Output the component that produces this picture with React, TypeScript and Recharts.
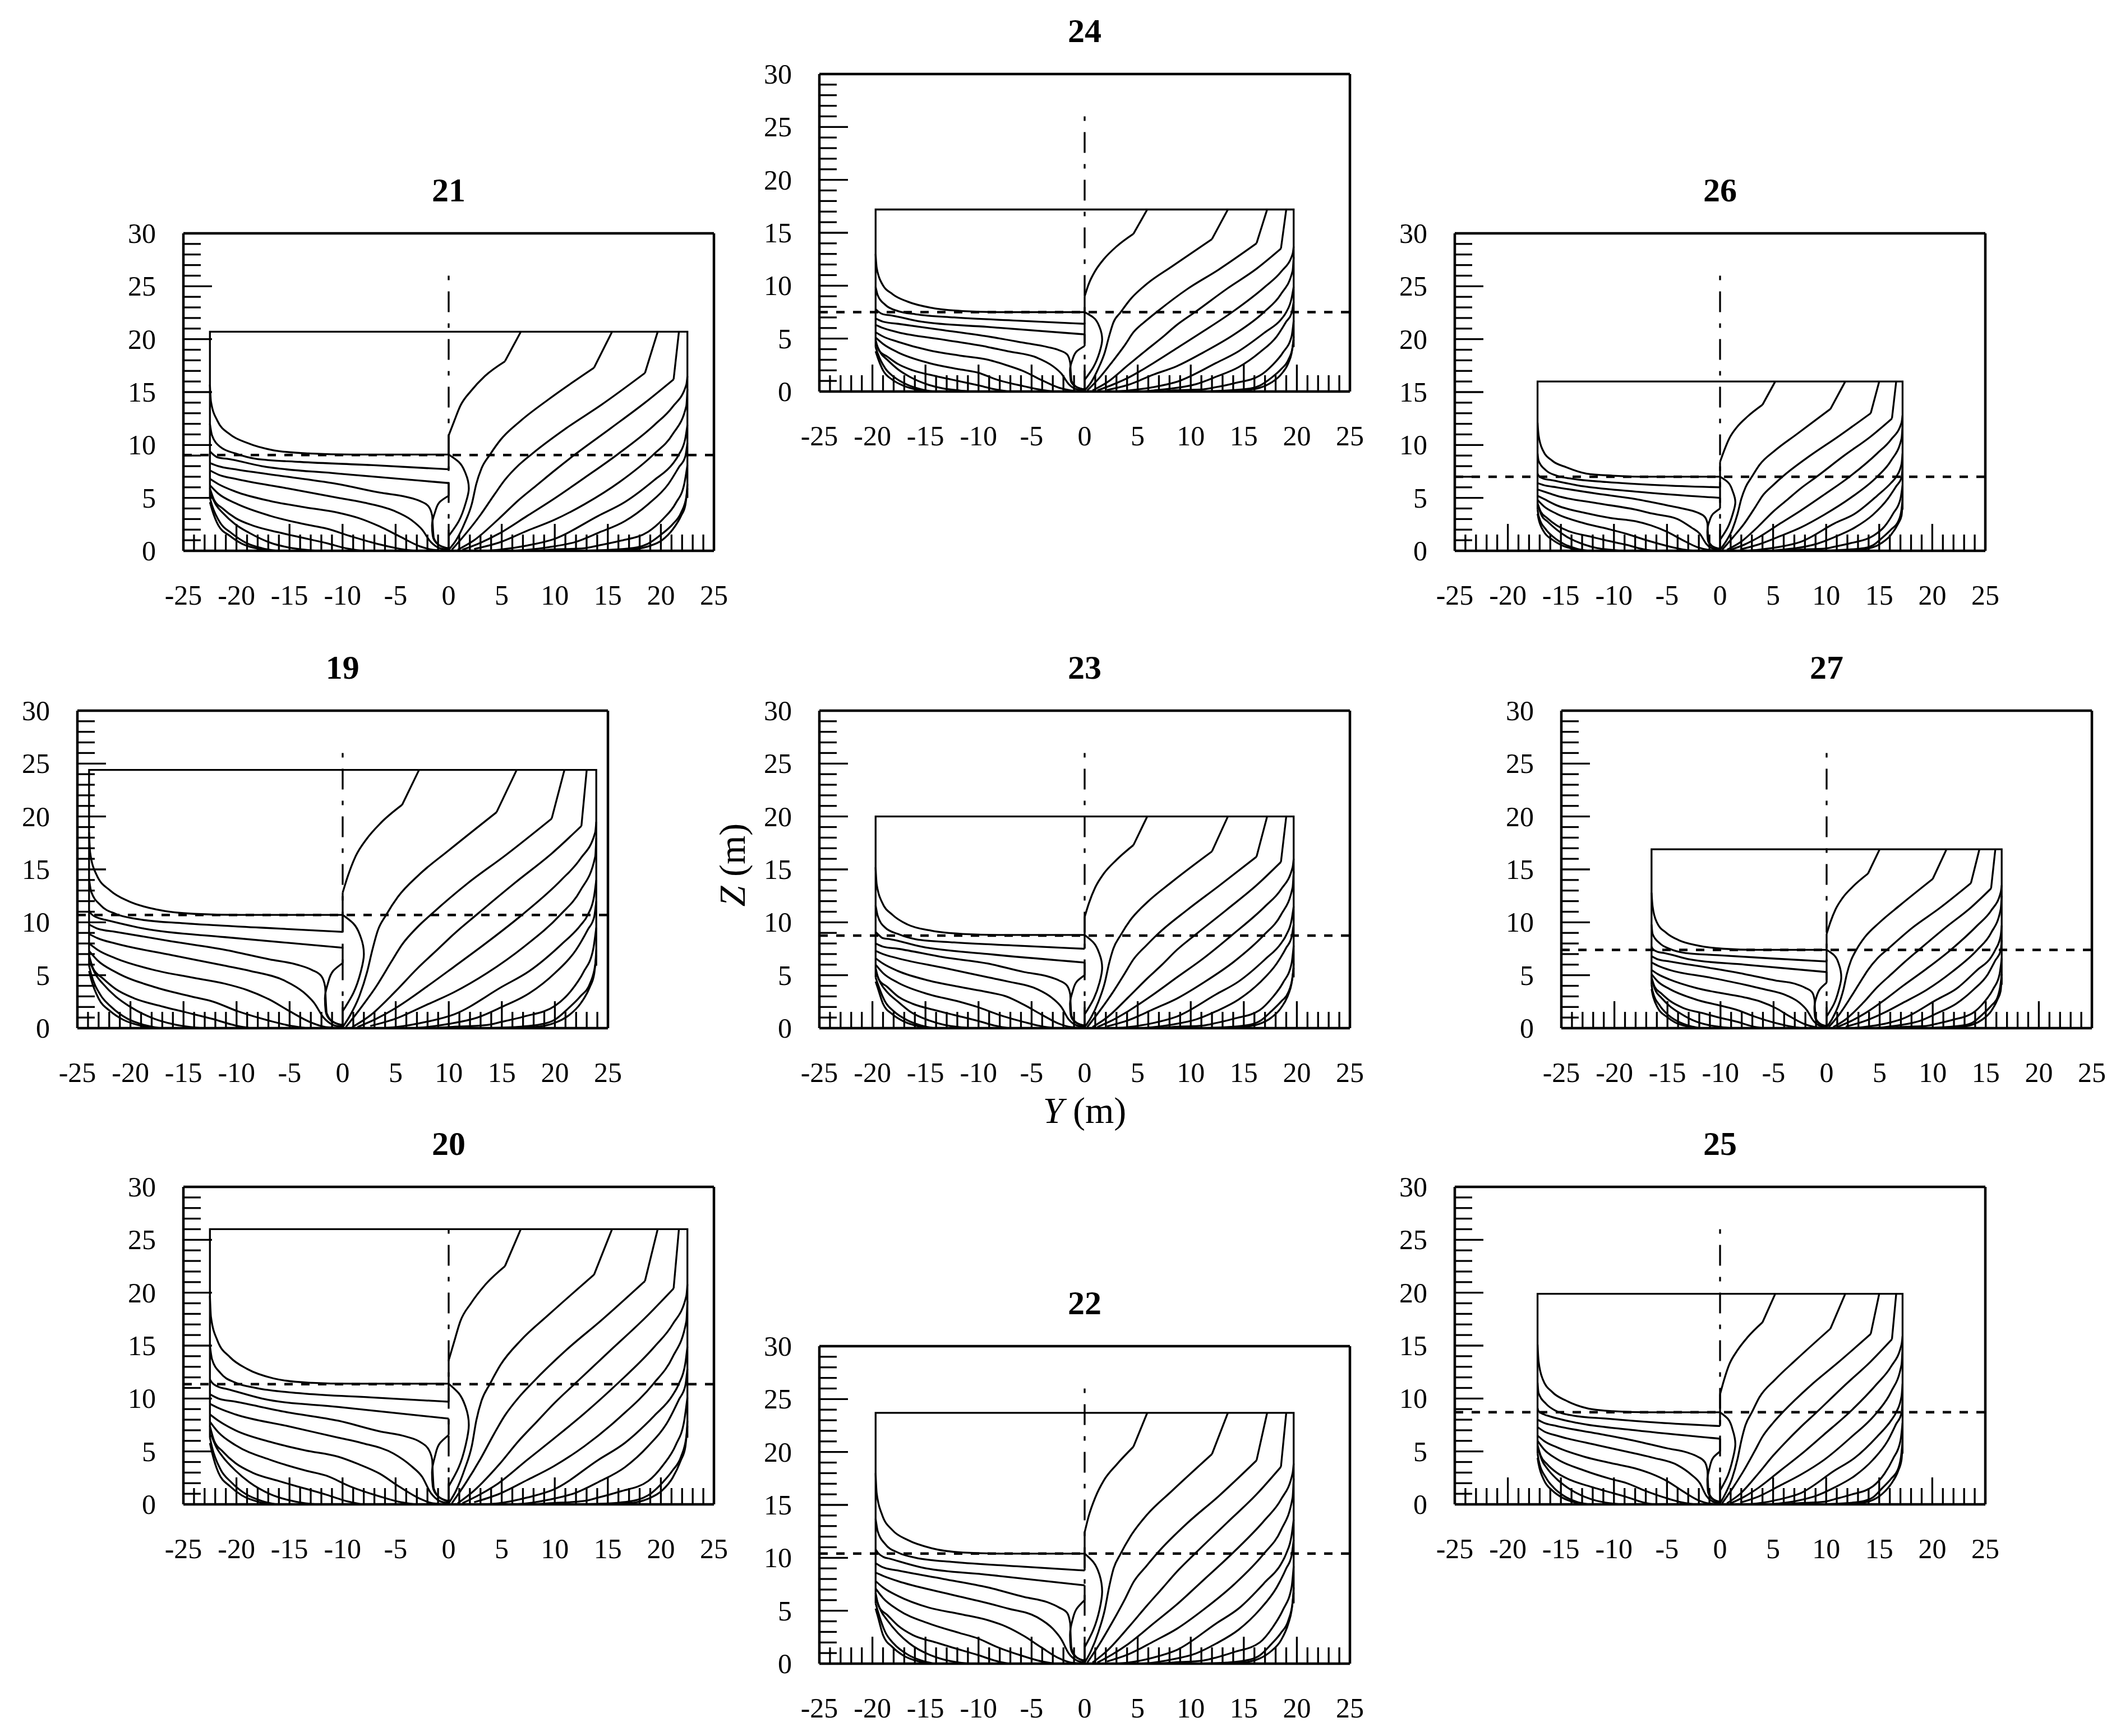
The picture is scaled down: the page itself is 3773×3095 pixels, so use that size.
import { LineChart, Line, XAxis, YAxis, ReferenceLine } from "recharts"

const xTicks = [-25,-24,-23,-22,-21,-20,-19,-18,-17,-16,-15,-14,-13,-12,-11,-10,-9,-8,-7,-6,-5,-4,-3,-2,-1,0,1,2,3,4,5,6,7,8,9,10,11,12,13,14,15,16,17,18,19,20,21,22,23,24,25]
const zTicks = [0,1,2,3,4,5,6,7,8,9,10,11,12,13,14,15,16,17,18,19,20,21,22,23,24,25,26,27,28,29,30]

// Y (half breadth) rows per hull width, Z rows per panel, same row order everywhere:
// rows 0-21 station lines, 22-23 stem and stern hooks, 24-30 straight bits (deck, centre, shoulders)
const y239 = [
  [-23.9,-23.8,-23.2,-21.9,-20.2,-17.5,-14,-9.6,0],
  [-23.9,-23.7,-22.8,-21.4,-19.3,-14.9,-7.8,0],
  [-23.9,-23.7,-23,-22.2,-18.7,-11.1,0],
  [-23.9,-23.1,-21.4,-16.1,-11.1,-6.9,-4.3,-2.9,-2,-1.65,-1.6,-1.5,-0.9,0],
  [-23.9,-23.1,-21.4,-16.1,-11.1,-8.7,-5.5,-3.7,-2.7,-1.8,-0.9,0],
  [-23.9,-23.1,-21.4,-17.8,-14.3,-11.1,-9,-6.9,-5,-2.9,-1.6,0],
  [-23.9,-23.1,-21.4,-17.8,-14.3,-12.2,-9.9,-6.9,-4.8,-3.4],
  [-23.9,-23.5,-22.6,-21.4,-19.6,-17,-15,-12.2,-10.1,-8.7],
  [-23.8,-23.3,-22.6,-21.4,-20,-17.8,-16.1,-14.3,-13],
  [-23.9,-23.7,-22.8,-21.8,-20.3,-18.7,-17.2],
  [-23.9,-23.7,-23,-21.9,-20.7,-18.9,-17.5],
  [0,0.5,1.2,2.2,3.6,5.6],
  [0,0.7,1.6,2.3,2.8,3.3,4.1,5.2,7.2,10,14.5],
  [0.3,1.7,3.2,4.6,5.6,7,8.4,11.8,15.3,19.7],
  [0.9,2.6,5,7,8.8,10.6,12.6,16.2,19.7,22.5],
  [1.4,3.2,5,7.9,10.5,13.6,16.9,20.6,22.4,23.8,23.9],
  [2.6,5,7.9,10.5,13.6,17.1,20.5,22.4,23.8,23.9],
  [3.5,5,7.9,10.5,15,17.6,20.6,22.4,23.1,23.7,23.9],
  [6.5,7.9,10,12.7,15,17.6,20,22,23.1,23.7,23.9],
  [8.5,10,13.6,15,17.1,20,21.5,22.7,23.6,23.9],
  [13,16.2,18.9,20,21.3,22.4,23.3,23.8,23.9],
  [15,18,20,21.3,22.4,23.3,23.7,23.9],
  [0,-0.9,-1.4,-1.67,-1.6,-1.1,0],
  [0,1,1.7,2,1.7,1,0],
  [-23.9,-23.9,23.9,23.9],
  [0,0],
  [0,0],
  [5.6,7.2],
  [14.5,16.4],
  [19.7,20.9],
  [22.5,23],
]
const y225 = [
  [-22.5,-22.4,-21.8,-20.6,-19,-16.5,-13.2,-9,0],
  [-22.5,-22.3,-21.5,-20.1,-18.2,-14,-7.3,0],
  [-22.5,-22.3,-21.7,-20.9,-17.6,-10.4,0],
  [-22.5,-21.7,-20.1,-15.2,-10.4,-6.5,-4,-2.7,-1.9,-1.55,-1.5,-1.4,-0.85,0],
  [-22.5,-21.7,-20.1,-15.2,-10.4,-8.2,-5.2,-3.5,-2.5,-1.7,-0.85,0],
  [-22.5,-21.7,-20.1,-16.8,-13.5,-10.4,-8.5,-6.5,-4.7,-2.7,-1.5,0],
  [-22.5,-21.7,-20.1,-16.8,-13.5,-11.5,-9.3,-6.5,-4.5,-3.2],
  [-22.5,-22.1,-21.3,-20.1,-18.5,-16,-14.1,-11.5,-9.5,-8.2],
  [-22.4,-21.9,-21.3,-20.1,-18.8,-16.8,-15.2,-13.5,-12.2],
  [-22.5,-22.3,-21.5,-20.5,-19.1,-17.6,-16.2],
  [-22.5,-22.3,-21.7,-20.6,-19.5,-17.8,-16.5],
  [0,0.5,1.1,2.1,3.4,5.3],
  [0,0.7,1.5,2.2,2.6,3.1,3.9,4.9,6.8,9.4,13.7],
  [0.3,1.6,3,4.3,5.3,6.6,7.9,11.1,14.4,18.5],
  [0.85,2.4,4.7,6.6,8.3,10,11.9,15.3,18.5,21.2],
  [1.3,3,4.7,7.4,9.9,12.8,15.9,19.4,21.1,22.4,22.5],
  [2.4,4.7,7.4,9.9,12.8,16.1,19.3,21.1,22.4,22.5],
  [3.3,4.7,7.4,9.9,14.1,16.6,19.4,21.1,21.7,22.3,22.5],
  [6.1,7.4,9.4,12,14.1,16.6,18.8,20.7,21.7,22.3,22.5],
  [8,9.4,12.8,14.1,16.1,18.8,20.2,21.4,22.2,22.5],
  [12.2,15.3,17.8,18.8,20.1,21.1,21.9,22.4,22.5],
  [14.1,16.9,18.8,20.1,21.1,21.9,22.3,22.5],
  [0,-0.85,-1.3,-1.57,-1.5,-1,0],
  [0,0.95,1.6,1.9,1.6,0.95,0],
  [-22.5,-22.5,22.5,22.5],
  [0,0],
  [0,0],
  [5.3,6.8],
  [13.7,15.4],
  [18.5,19.7],
  [21.2,21.7],
]
const y197 = [
  [-19.7,-19.6,-19.1,-18.1,-16.7,-14.4,-11.5,-7.9,0],
  [-19.7,-19.5,-18.8,-17.6,-15.9,-12.3,-6.4,0],
  [-19.7,-19.5,-19,-18.3,-15.4,-9.1,0],
  [-19.7,-19,-17.6,-13.3,-9.1,-5.7,-3.5,-2.4,-1.65,-1.36,-1.32,-1.24,-0.74,0],
  [-19.7,-19,-17.6,-13.3,-9.1,-7.2,-4.5,-3,-2.2,-1.5,-0.74,0],
  [-19.7,-19,-17.6,-14.7,-11.8,-9.1,-7.4,-5.7,-4.1,-2.4,-1.3,0],
  [-19.7,-19,-17.6,-14.7,-11.8,-10.1,-8.2,-5.7,-4,-2.8],
  [-19.7,-19.4,-18.6,-17.6,-16.2,-14,-12.4,-10.1,-8.3,-7.2],
  [-19.6,-19.2,-18.6,-17.6,-16.5,-14.7,-13.3,-11.8,-10.7],
  [-19.7,-19.5,-18.8,-18,-16.7,-15.4,-14.2],
  [-19.7,-19.5,-19,-18.1,-17.1,-15.6,-14.4],
  [0,0.4,1,1.8,3,4.6],
  [0,0.6,1.3,1.9,2.3,2.7,3.4,4.3,5.9,8.2,12],
  [0.25,1.4,2.6,3.8,4.6,5.8,6.9,9.7,12.6,16.2],
  [0.74,2.1,4.1,5.8,7.3,8.7,10.4,13.4,16.2,18.5],
  [1.2,2.6,4.1,6.5,8.7,11.2,13.9,17,18.5,19.6,19.7],
  [2.1,4.1,6.5,8.7,11.2,14.1,16.9,18.5,19.6,19.7],
  [2.9,4.1,6.5,8.7,12.4,14.5,17,18.5,19,19.5,19.7],
  [5.4,6.5,8.2,10.5,12.4,14.5,16.5,18.1,19,19.5,19.7],
  [7,8.2,11.2,12.4,14.1,16.5,17.7,18.7,19.5,19.7],
  [10.7,13.4,15.6,16.5,17.6,18.5,19.2,19.6,19.7],
  [12.4,14.8,16.5,17.6,18.5,19.2,19.5,19.7],
  [0,-0.74,-1.15,-1.38,-1.32,-0.9,0],
  [0,0.82,1.4,1.65,1.4,0.82,0],
  [-19.7,-19.7,19.7,19.7],
  [0,0],
  [0,0],
  [4.6,5.9],
  [12,13.5],
  [16.2,17.2],
  [18.5,19],
]
const y172 = [
  [-17.2,-17.1,-16.7,-15.8,-14.5,-12.6,-10.1,-6.9,0],
  [-17.2,-17.1,-16.4,-15.4,-13.9,-10.7,-5.6,0],
  [-17.2,-17.1,-16.6,-16,-13.5,-8,0],
  [-17.2,-16.6,-15.4,-11.6,-8,-5,-3.1,-2.1,-1.44,-1.19,-1.15,-1.08,-0.65,0],
  [-17.2,-16.6,-15.4,-11.6,-8,-6.3,-4,-2.7,-1.9,-1.3,-0.65,0],
  [-17.2,-16.6,-15.4,-12.8,-10.3,-8,-6.5,-5,-3.6,-2.1,-1.15,0],
  [-17.2,-16.6,-15.4,-12.8,-10.3,-8.8,-7.1,-5,-3.5,-2.4],
  [-17.2,-16.9,-16.3,-15.4,-14.1,-12.2,-10.8,-8.8,-7.3,-6.3],
  [-17.1,-16.8,-16.3,-15.4,-14.4,-12.8,-11.6,-10.3,-9.4],
  [-17.2,-17.1,-16.4,-15.7,-14.6,-13.5,-12.4],
  [-17.2,-17.1,-16.6,-15.8,-14.9,-13.6,-12.6],
  [0,0.36,0.86,1.6,2.6,4],
  [0,0.5,1.15,1.65,2,2.4,3,3.7,5.2,7.2,10.4],
  [0.2,1.2,2.3,3.3,4,5,6,8.5,11,14.2],
  [0.65,1.9,3.6,5,6.3,7.6,9.1,11.7,14.2,16.2],
  [1,2.3,3.6,5.7,7.6,9.8,12.2,14.8,16.1,17.1,17.2],
  [1.9,3.6,5.7,7.6,9.8,12.3,14.8,16.1,17.1,17.2],
  [2.5,3.6,5.7,7.6,10.8,12.7,14.8,16.1,16.6,17.1,17.2],
  [4.7,5.7,7.2,9.1,10.8,12.7,14.4,15.8,16.6,17.1,17.2],
  [6.1,7.2,9.8,10.8,12.3,14.4,15.5,16.3,17,17.2],
  [9.4,11.7,13.6,14.4,15.3,16.1,16.8,17.1,17.2],
  [10.8,13,14.4,15.3,16.1,16.8,17.1,17.2],
  [0,-0.65,-1,-1.2,-1.15,-0.8,0],
  [0,0.72,1.2,1.44,1.2,0.72,0],
  [-17.2,-17.2,17.2,17.2],
  [0,0],
  [0,0],
  [4,5.2],
  [10.4,11.8],
  [14.2,15],
  [16.2,16.6],
]
const y165 = [
  [-16.5,-16.4,-16,-15.1,-13.9,-12.1,-9.7,-6.6,0],
  [-16.5,-16.4,-15.7,-14.8,-13.3,-10.3,-5.4,0],
  [-16.5,-16.4,-15.9,-15.3,-12.9,-7.7,0],
  [-16.5,-15.9,-14.8,-11.1,-7.7,-4.8,-3,-2,-1.38,-1.14,-1.1,-1.04,-0.62,0],
  [-16.5,-15.9,-14.8,-11.1,-7.7,-6,-3.8,-2.55,-1.86,-1.24,-0.62,0],
  [-16.5,-15.9,-14.8,-12.3,-9.9,-7.7,-6.2,-4.8,-3.45,-2,-1.1,0],
  [-16.5,-15.9,-14.8,-12.3,-9.9,-8.4,-6.8,-4.8,-3.3,-2.35],
  [-16.5,-16.2,-15.6,-14.8,-13.5,-11.7,-10.4,-8.4,-7,-6],
  [-16.4,-16.1,-15.6,-14.8,-13.8,-12.3,-11.1,-9.9,-9],
  [-16.5,-16.4,-15.7,-15.1,-14,-12.9,-11.9],
  [-16.5,-16.4,-15.9,-15.1,-14.3,-13,-12.1],
  [0,0.35,0.83,1.5,2.5,3.9],
  [0,0.5,1.1,1.6,1.9,2.3,2.8,3.6,5,6.9,10],
  [0.2,1.2,2.2,3.2,3.9,4.8,5.8,8.1,10.6,13.6],
  [0.62,1.8,3.45,4.8,6.1,7.3,8.7,11.2,13.6,15.5],
  [1,2.2,3.45,5.5,7.2,9.4,11.7,14.2,15.5,16.4,16.5],
  [1.8,3.45,5.5,7.2,9.4,11.8,14.2,15.5,16.4,16.5],
  [2.4,3.45,5.5,7.2,10.4,12.2,14.2,15.5,15.9,16.4,16.5],
  [4.5,5.5,6.9,8.8,10.4,12.2,13.8,15.2,15.9,16.4,16.5],
  [5.9,6.9,9.4,10.4,11.8,13.8,14.8,15.7,16.3,16.5],
  [9,11.2,13,13.8,14.7,15.5,16.1,16.4,16.5],
  [10.4,12.4,13.8,14.7,15.5,16.1,16.4,16.5],
  [0,-0.62,-0.97,-1.15,-1.1,-0.76,0],
  [0,0.7,1.17,1.38,1.17,0.7,0],
  [-16.5,-16.5,16.5,16.5],
  [0,0],
  [0,0],
  [3.9,5],
  [10,11.3],
  [13.6,14.4],
  [15.5,15.9],
]

const z19 = [
  [18.5,16.6,14.5,13,12,11.2,10.8,10.7,10.7],
  [14.1,12.9,11.6,10.8,10.3,9.9,9.5,9.1],
  [11.1,10.8,10.4,10.2,9.4,8.6,7.6],
  [9.8,9.4,9.1,8.2,7.4,6.5,6,5.5,4.9,3.9,2.8,1.4,0.6,0.3],
  [8.9,8.5,8,6.9,5.9,5.4,4.5,3.4,2.4,1,0.3,0.1],
  [8,7.4,6.6,5.5,4.8,4.2,3.6,2.7,1.6,0.5,0.1,0],
  [7.3,6.4,5.3,3.9,3,2.5,1.6,0.7,0.2,0],
  [6.9,5.6,4.7,3.7,2.8,2.05,1.55,0.85,0.25,0],
  [6.2,5.1,4.2,3,2,0.9,0.4,0.1,0],
  [5.9,5.1,3.1,2,0.9,0.3,0],
  [5.4,4.6,2.8,1.6,0.8,0.2,0],
  [12.8,14.4,16.2,17.8,19.4,21.1],
  [0.1,1.2,3.1,5.3,7.4,9.2,10.7,12.4,14.5,16.8,20.4],
  [0.1,1.9,4,6.3,7.9,9.5,10.8,13.7,16.3,19.8],
  [0.1,1.2,3.5,5.6,7.3,9,10.7,13.7,16.5,19.1],
  [0.1,0.9,1.9,3.9,5.8,8.1,10.7,14,16,18.5,19.5],
  [0.2,0.9,2.2,3.4,5.2,7.7,10.7,13,16.2,18],
  [0,0.1,0.6,1.3,3.9,5.4,7.9,9.7,10.7,12.5,14],
  [0,0.1,0.4,1,2,3.3,5.2,7.4,9.3,10.5,12],
  [0,0.1,0.3,0.6,1.1,2.1,3.5,5.3,7.4,9.5],
  [0,0.1,0.4,0.8,1.9,3,4.2,6,7.4],
  [0,0.1,0.5,1.2,2.3,3.9,5.1,6.9],
  [6.15,5.4,4.2,2.8,1.6,0.7,0.2],
  [10.7,9.9,8.6,7,5.3,3.3,1.6],
  [5.9,24.4,24.4,5.9],
  [12.8,9.1],
  [7.6,6.15],
  [21.1,24.4],
  [20.4,24.4],
  [19.8,24.4],
  [19.1,24.4],
]
const z20 = [
  [19.7,17.7,15.5,13.9,12.8,11.9,11.5,11.4,11.4],
  [15,13.7,12.4,11.5,11,10.5,10.1,9.7],
  [11.8,11.5,11.1,10.9,10,9.2,8.1],
  [10.4,10,9.7,8.7,7.9,6.9,6.4,5.9,5.2,4.2,3,1.5,0.64,0.32],
  [9.5,9.1,8.5,7.4,6.3,5.8,4.8,3.6,2.6,1.1,0.32,0.1],
  [8.5,7.9,7,5.9,5.1,4.5,3.8,2.9,1.7,0.53,0.1,0],
  [7.8,6.8,5.6,4.2,3.2,2.7,1.7,0.75,0.2,0],
  [7.4,6,5,3.9,3,2.2,1.65,0.9,0.27,0],
  [6.6,5.4,4.5,3.2,2.1,0.96,0.43,0.1,0],
  [6.3,5.4,3.3,2.1,0.96,0.32,0],
  [5.8,4.9,3,1.7,0.85,0.2,0],
  [13.6,15.3,17.3,19,20.7,22.5],
  [0.1,1.3,3.3,5.6,7.9,9.8,11.4,13.2,15.5,17.9,21.7],
  [0.1,2,4.3,6.7,8.4,10.1,11.5,14.6,17.4,21.1],
  [0.1,1.3,3.7,6,7.8,9.6,11.4,14.6,17.6,20.4],
  [0.1,0.96,2,4.2,6.2,8.6,11.4,14.9,17,19.7,20.8],
  [0.2,0.96,2.3,3.6,5.5,8.2,11.4,13.9,17.3,19.2],
  [0,0.1,0.64,1.4,4.2,5.8,8.4,10.3,11.4,13.3,14.9],
  [0,0.1,0.43,1.1,2.1,3.5,5.5,7.9,9.9,11.2,12.8],
  [0,0.1,0.32,0.64,1.2,2.2,3.7,5.6,7.9,10.1],
  [0,0.1,0.43,0.85,2,3.2,4.5,6.4,7.9],
  [0,0.1,0.53,1.3,2.5,4.2,5.4,7.4],
  [6.55,5.75,4.5,3,1.7,0.75,0.2],
  [11.4,10.5,9.2,7.5,5.6,3.5,1.7],
  [6.3,26,26,6.3],
  [13.6,9.7],
  [8.1,6.55],
  [22.5,26],
  [21.7,26],
  [21.1,26],
  [20.4,26],
]
const z21 = [
  [15.7,14.1,12.3,11,10.2,9.5,9.2,9.1,9.1],
  [12,10.9,9.8,9.2,8.7,8.4,8.1,7.7],
  [9.4,9.2,8.8,8.7,8,7.3,6.4],
  [8.3,8,7.7,7,6.3,5.5,5.1,4.7,4.2,3.3,2.4,1.2,0.5,0.25],
  [7.6,7.2,6.8,5.9,5,4.6,3.8,2.9,2,0.85,0.25,0.1],
  [6.8,6.3,5.6,4.7,4.1,3.6,3.1,2.3,1.4,0.42,0.1,0],
  [6.2,5.4,4.5,3.3,2.5,2.1,1.4,0.6,0.17,0],
  [5.9,4.8,4,3.1,2.4,1.74,1.3,0.72,0.2,0],
  [5.3,4.3,3.6,2.5,1.7,0.76,0.34,0.1,0],
  [5,4.3,2.6,1.7,0.76,0.25,0],
  [4.6,3.9,2.4,1.4,0.68,0.17,0],
  [10.9,12.2,13.7,15.1,16.5,17.9],
  [0.1,1,2.6,4.5,6.3,7.8,9.1,10.5,12.3,14.3,17.3],
  [0.1,1.6,3.4,5.3,6.7,8.1,9.2,11.6,13.8,16.8],
  [0.1,1,3,4.8,6.2,7.6,9.1,11.6,14,16.2],
  [0.1,0.76,1.6,3.3,4.9,6.9,9.1,11.9,13.6,15.7,16.5],
  [0.17,0.76,1.9,2.9,4.4,6.5,9.1,11,13.7,15.3],
  [0,0.1,0.5,1.1,3.3,4.6,6.7,8.2,9.1,10.6,11.9],
  [0,0.1,0.34,0.85,1.7,2.8,4.4,6.3,7.9,8.9,10.2],
  [0,0.1,0.25,0.5,0.93,1.8,3,4.5,6.3,8.1],
  [0,0.1,0.34,0.68,1.6,2.5,3.6,5.1,6.3],
  [0,0.1,0.42,1,2,3.3,4.3,5.9],
  [5.2,4.6,3.6,2.4,1.4,0.6,0.17],
  [9.1,8.4,7.3,5.9,4.5,2.8,1.4],
  [5,20.7,20.7,5],
  [10.9,7.7],
  [6.4,5.2],
  [17.9,20.7],
  [17.3,20.7],
  [16.8,20.7],
  [16.2,20.7],
]
const z22 = [
  [18,16.1,14.1,12.6,11.7,10.9,10.5,10.4,10.4],
  [13.7,12.5,11.3,10.5,10,9.6,9.2,8.8],
  [10.8,10.5,10.1,9.9,9.1,8.4,7.4],
  [9.5,9.1,8.8,8,7.2,6.3,5.8,5.3,4.8,3.8,2.7,1.4,0.58,0.3],
  [8.6,8.3,7.8,6.7,5.7,5.2,4.4,3.3,2.3,0.97,0.3,0.1],
  [7.8,7.2,6.4,5.3,4.7,4.1,3.5,2.6,1.55,0.5,0.1,0],
  [7.1,6.2,5.1,3.8,2.9,2.4,1.55,0.68,0.2,0],
  [6.7,5.4,4.6,3.6,2.7,2,1.5,0.83,0.24,0],
  [6,5,4.1,2.9,1.9,0.87,0.39,0.1,0],
  [5.7,5,3,1.9,0.87,0.3,0],
  [5.2,4.5,2.7,1.55,0.78,0.2,0],
  [12.4,14,15.7,17.3,18.8,20.5],
  [0.1,1.2,3,5.1,7.2,8.9,10.4,12,14.1,16.3,19.8],
  [0.1,1.85,3.9,6.1,7.7,9.2,10.5,13.3,15.8,19.2],
  [0.1,1.2,3.4,5.4,7.1,8.7,10.4,13.3,16,18.6],
  [0.1,0.87,1.85,3.8,5.6,7.9,10.4,13.6,15.5,18,18.9],
  [0.2,0.87,2.1,3.3,5.1,7.5,10.4,12.6,15.7,17.5],
  [0,0.1,0.58,1.3,3.8,5.2,7.7,9.4,10.4,12.1,13.6],
  [0,0.1,0.39,0.97,1.9,3.2,5.1,7.2,9,10.2,11.7],
  [0,0.1,0.3,0.58,1.1,2,3.4,5.1,7.2,9.2],
  [0,0.1,0.39,0.78,1.85,2.9,4.1,5.8,7.2],
  [0,0.1,0.49,1.2,2.2,3.8,5,6.7],
  [6,5.2,4.1,2.7,1.55,0.68,0.2],
  [10.4,9.6,8.4,6.8,5.1,3.2,1.55],
  [5.7,23.7,23.7,5.7],
  [12.4,8.8],
  [7.4,6],
  [20.5,23.7],
  [19.8,23.7],
  [19.2,23.7],
  [18.6,23.7],
]
const z23 = [
  [15.2,13.6,11.9,10.7,9.8,9.2,8.9,8.8,8.8],
  [11.6,10.6,9.5,8.9,8.4,8.1,7.8,7.5],
  [9.1,8.9,8.5,8.4,7.7,7,6.2],
  [8,7.7,7.5,6.7,6.1,5.3,4.9,4.5,4,3.2,2.3,1.15,0.49,0.25],
  [7.3,7,6.6,5.7,4.8,4.4,3.7,2.8,2,0.82,0.25,0.1],
  [6.6,6.1,5.4,4.5,3.9,3.4,3,2.2,1.3,0.41,0.1,0],
  [6,5.2,4.3,3.2,2.5,2,1.3,0.57,0.16,0],
  [5.7,4.6,3.9,3,2.3,1.68,1.27,0.7,0.2,0],
  [5.1,4.2,3.4,2.5,1.6,0.74,0.33,0.1,0],
  [4.8,4.2,2.5,1.6,0.74,0.25,0],
  [4.4,3.8,2.3,1.3,0.66,0.16,0],
  [10.5,11.8,13.3,14.6,15.9,17.3],
  [0.1,1,2.5,4.3,6.1,7.5,8.8,10.2,11.9,13.8,16.7],
  [0.1,1.6,3.3,5.2,6.5,7.8,8.9,11.2,13.4,16.2],
  [0.1,1,2.9,4.6,6,7.4,8.8,11.2,13.5,15.7],
  [0.1,0.74,1.6,3.2,4.8,6.6,8.8,11.5,13.1,15.2,16],
  [0.16,0.74,1.8,2.8,4.3,6.3,8.8,10.7,13.3,14.8],
  [0,0.1,0.49,1.1,3.2,4.4,6.5,8,8.8,10.2,11.5],
  [0,0.1,0.33,0.82,1.6,2.7,4.3,6.1,7.6,8.6,9.8],
  [0,0.1,0.25,0.49,0.9,1.7,2.9,4.3,6.1,7.8],
  [0,0.1,0.33,0.66,1.6,2.5,3.4,4.9,6.1],
  [0,0.1,0.41,1,1.9,3.2,4.2,5.7],
  [5,4.4,3.4,2.3,1.3,0.57,0.16],
  [8.8,8.1,7,5.7,4.3,2.7,1.3],
  [4.8,20,20,4.8],
  [10.5,7.5],
  [6.2,5],
  [17.3,20],
  [16.7,20],
  [16.2,20],
  [15.7,20],
]
const z24 = [
  [13,11.7,10.2,9.2,8.5,7.9,7.6,7.5,7.5],
  [9.9,9.1,8.2,7.6,7.3,7,6.7,6.4],
  [7.8,7.6,7.3,7.2,6.6,6.1,5.4],
  [6.9,6.6,6.4,5.8,5.2,4.6,4.2,3.9,3.5,2.7,2,1,0.42,0.21],
  [6.3,6,5.6,4.9,4.2,3.8,3.2,2.4,1.7,0.7,0.21,0.1],
  [5.6,5.2,4.7,3.9,3.4,3,2.5,1.9,1.1,0.35,0.1,0],
  [5.1,4.5,3.7,2.7,2.1,1.8,1.1,0.49,0.14,0],
  [4.9,3.9,3.3,2.6,2,1.45,1.1,0.6,0.18,0],
  [4.4,3.6,3,2.1,1.4,0.63,0.28,0.1,0],
  [4.2,3.6,2.2,1.4,0.63,0.21,0],
  [3.8,3.2,2,1.1,0.56,0.14,0],
  [9,10.2,11.4,12.5,13.7,14.9],
  [0.1,0.85,2.2,3.7,5.2,6.5,7.5,8.7,10.2,11.8,14.4],
  [0.1,1.3,2.8,4.4,5.6,6.7,7.6,9.7,11.5,14],
  [0.1,0.85,2.5,3.9,5.1,6.3,7.5,9.7,11.6,13.5],
  [0.1,0.63,1.3,2.7,4.1,5.7,7.5,9.9,11.3,13,13.7],
  [0.14,0.63,1.6,2.4,3.7,5.4,7.5,9.2,11.4,12.7],
  [0,0.1,0.42,0.92,2.7,3.8,5.6,6.8,7.5,8.8,9.9],
  [0,0.1,0.28,0.7,1.4,2.3,3.7,5.2,6.6,7.4,8.5],
  [0,0.1,0.21,0.42,0.78,1.5,2.5,3.7,5.2,6.7],
  [0,0.1,0.28,0.56,1.3,2.1,3,4.2,5.2],
  [0,0.1,0.35,0.85,1.6,2.7,3.6,4.9],
  [4.3,3.8,3,2,1.1,0.49,0.14],
  [7.5,7,6.1,4.9,3.7,2.3,1.1],
  [4.2,17.2,17.2,4.2],
  [9,6.4],
  [5.4,4.3],
  [14.9,17.2],
  [14.4,17.2],
  [14,17.2],
  [13.5,17.2],
]
const z25 = [
  [15.1,13.5,11.8,10.6,9.8,9.1,8.8,8.7,8.7],
  [11.5,10.5,9.5,8.8,8.4,8.1,7.7,7.4],
  [9.1,8.8,8.5,8.3,7.7,7,6.2],
  [8,7.7,7.4,6.7,6,5.3,4.9,4.5,4,3.2,2.3,1.15,0.49,0.25],
  [7.3,6.9,6.5,5.6,4.8,4.4,3.7,2.8,2,0.82,0.25,0.1],
  [6.5,6,5.4,4.5,3.9,3.4,2.9,2.2,1.3,0.41,0.1,0],
  [6,5.2,4.3,3.2,2.4,2,1.3,0.57,0.16,0],
  [5.6,4.6,3.8,3,2.3,1.67,1.26,0.69,0.2,0],
  [5.1,4.2,3.4,2.4,1.6,0.73,0.33,0.1,0],
  [4.8,4.2,2.5,1.6,0.73,0.24,0],
  [4.4,3.8,2.3,1.3,0.65,0.16,0],
  [10.4,11.7,13.2,14.5,15.8,17.2],
  [0.1,1,2.5,4.3,6,7.5,8.7,10.1,11.8,13.7,16.6],
  [0.1,1.55,3.3,5.1,6.4,7.7,8.8,11.2,13.3,16.1],
  [0.1,1,2.9,4.6,6,7.3,8.7,11.2,13.5,15.6],
  [0.1,0.73,1.55,3.2,4.7,6.6,8.7,11.4,13,15.1,15.9],
  [0.16,0.73,1.8,2.8,4.2,6.3,8.7,10.6,13.2,14.7],
  [0,0.1,0.49,1.06,3.2,4.4,6.4,7.9,8.7,10.2,11.4],
  [0,0.1,0.33,0.82,1.6,2.7,4.2,6,7.6,8.6,9.8],
  [0,0.1,0.24,0.49,0.9,1.7,2.9,4.3,6,7.7],
  [0,0.1,0.33,0.65,1.55,2.4,3.4,4.9,6],
  [0,0.1,0.41,1,1.9,3.2,4.2,5.6],
  [5,4.4,3.4,2.3,1.3,0.57,0.16],
  [8.7,8.1,7,5.7,4.3,2.7,1.3],
  [4.8,19.9,19.9,4.8],
  [10.4,7.4],
  [6.2,5],
  [17.2,19.9],
  [16.6,19.9],
  [16.1,19.9],
  [15.6,19.9],
]
const z26 = [
  [12.1,10.9,9.5,8.5,7.9,7.3,7.1,7,7],
  [9.2,8.5,7.6,7.1,6.8,6.5,6.2,6],
  [7.3,7.1,6.8,6.7,6.2,5.6,5],
  [6.4,6.2,6,5.4,4.9,4.3,3.9,3.6,3.2,2.6,1.8,0.92,0.39,0.2],
  [5.8,5.6,5.2,4.5,3.9,3.5,3,2.2,1.6,0.66,0.2,0.1],
  [5.2,4.9,4.3,3.6,3.1,2.8,2.4,1.8,1.05,0.33,0.1,0],
  [4.8,4.2,3.5,2.6,2,1.6,1.05,0.46,0.13,0],
  [4.5,3.7,3.1,2.4,1.8,1.34,1,0.56,0.16,0],
  [4.1,3.3,2.8,2,1.3,0.59,0.26,0.1,0],
  [3.9,3.3,2,1.3,0.59,0.2,0],
  [3.5,3,1.8,1.05,0.52,0.13,0],
  [8.4,9.4,10.6,11.7,12.7,13.8],
  [0.1,0.8,2,3.5,4.9,6,7,8.1,9.5,11,13.4],
  [0.1,1.25,2.6,4.1,5.2,6.2,7.1,9,10.7,13],
  [0.1,0.8,2.3,3.7,4.8,5.9,7,9,10.8,12.5],
  [0.1,0.59,1.25,2.6,3.8,5.3,7,9.2,10.5,12.1,12.8],
  [0.13,0.59,1.4,2.2,3.4,5,7,8.5,10.6,11.8],
  [0,0.1,0.39,0.85,2.6,3.5,5.2,6.4,7,8.2,9.2],
  [0,0.1,0.26,0.66,1.3,2.2,3.4,4.9,6.1,6.9,7.9],
  [0,0.1,0.2,0.39,0.72,1.4,2.3,3.5,4.9,6.2],
  [0,0.1,0.26,0.52,1.25,2,2.8,3.9,4.9],
  [0,0.1,0.33,0.79,1.5,2.6,3.3,4.5],
  [4,3.5,2.8,1.8,1.05,0.46,0.13],
  [7,6.5,5.6,4.6,3.5,2.2,1.05],
  [3.9,16,16,3.9],
  [8.4,6],
  [5,4],
  [13.8,16],
  [13.4,16],
  [13,16],
  [12.5,16],
]
const z27 = [
  [12.8,11.5,10,9,8.3,7.8,7.5,7.4,7.4],
  [9.8,8.9,8,7.5,7.1,6.9,6.6,6.3],
  [7.7,7.5,7.2,7.1,6.5,6,5.3],
  [6.8,6.5,6.3,5.7,5.1,4.5,4.2,3.8,3.4,2.7,1.9,0.97,0.42,0.21],
  [6.2,5.9,5.5,4.8,4.1,3.7,3.1,2.4,1.7,0.69,0.21,0.1],
  [5.5,5.1,4.6,3.8,3.3,2.9,2.5,1.9,1.1,0.35,0.1,0],
  [5.1,4.4,3.7,2.7,2.1,1.7,1.1,0.48,0.14,0],
  [4.8,3.9,3.3,2.6,1.9,1.42,1.07,0.59,0.17,0],
  [4.3,3.5,2.9,2.1,1.4,0.62,0.28,0.1,0],
  [4.1,3.5,2.1,1.4,0.62,0.21,0],
  [3.7,3.2,1.9,1.1,0.55,0.14,0],
  [8.9,10,11.2,12.3,13.4,14.6],
  [0.1,0.83,2.1,3.7,5.1,6.4,7.4,8.6,10,11.6,14.1],
  [0.1,1.3,2.8,4.4,5.5,6.6,7.5,9.5,11.3,13.7],
  [0.1,0.83,2.4,3.9,5.1,6.2,7.4,9.5,11.4,13.2],
  [0.1,0.62,1.3,2.7,4,5.6,7.4,9.7,11.1,12.8,13.5],
  [0.14,0.62,1.5,2.4,3.6,5.3,7.4,9,11.2,12.5],
  [0,0.1,0.42,0.9,2.7,3.7,5.5,6.7,7.4,8.7,9.7],
  [0,0.1,0.28,0.69,1.4,2.3,3.6,5.1,6.4,7.3,8.3],
  [0,0.1,0.21,0.42,0.76,1.45,2.4,3.7,5.1,6.6],
  [0,0.1,0.28,0.55,1.3,2.1,2.9,4.2,5.1],
  [0,0.1,0.35,0.83,1.6,2.7,3.5,4.8],
  [4.3,3.7,2.9,1.9,1.1,0.48,0.14],
  [7.4,6.9,6,4.8,3.7,2.3,1.1],
  [4.1,16.9,16.9,4.1],
  [8.9,6.3],
  [5.3,4.3],
  [14.6,16.9],
  [14.1,16.9],
  [13.7,16.9],
  [13.2,16.9],
]

const panels = [
  { title: "21", left: 327, top: 416, draft: 9.05, ys: y225, zs: z21 },
  { title: "24", left: 1461, top: 132, draft: 7.5, ys: y197, zs: z24 },
  { title: "26", left: 2594, top: 416, draft: 7, ys: y172, zs: z26 },
  { title: "19", left: 137.7, top: 1267, draft: 10.7, ys: y239, zs: z19 },
  { title: "23", left: 1461, top: 1267, draft: 8.75, ys: y197, zs: z23 },
  { title: "27", left: 2784, top: 1267, draft: 7.4, ys: y165, zs: z27 },
  { title: "20", left: 327, top: 2116, draft: 11.35, ys: y225, zs: z20 },
  { title: "22", left: 1461, top: 2400, draft: 10.4, ys: y197, zs: z22 },
  { title: "25", left: 2594, top: 2116, draft: 8.7, ys: y172, zs: z25 },
]

const serif = "'Liberation Serif', 'Times New Roman', serif"
const lineW = 3.3

const rowType = (i: number) => (i < 22 ? "monotoneX" : i < 24 ? "monotoneY" : "linear")

const XTick = ({ x, y, payload }: any) => {
  const major = payload.value % 5 === 0
  return (
    <g>
      <line x1={x} x2={x} y1={y} y2={y - (major ? 48 : 29)} stroke="#000" strokeWidth={lineW} />
      {major && <text x={x} y={y + 96} textAnchor="middle" fontFamily={serif} fontSize={50} fill="#000">{payload.value}</text>}
    </g>
  )
}

const ZTick = ({ x, y, payload }: any) => {
  const major = payload.value % 5 === 0
  return (
    <g>
      <line x1={x} x2={x + (major ? 51 : 31)} y1={y} y2={y} stroke="#000" strokeWidth={lineW} />
      {major && <text x={x - 49} y={y + 17} textAnchor="end" fontFamily={serif} fontSize={50} fill="#000">{payload.value}</text>}
    </g>
  )
}

function Panel({ title, left, top, draft, ys, zs }: any) {
  return (
    <>
      <div style={{ position: "absolute", left: left - 100, width: 1146, top: top - 112, textAlign: "center", fontFamily: serif, fontWeight: "bold", fontSize: 60, lineHeight: "70px", color: "#000" }}>{title}</div>
      <div style={{ position: "absolute", left: left - 120, top: top - 40 }}>
        <LineChart width={1106} height={736} margin={{ top: 40, right: 40, bottom: 0, left: 0 }}>
          <XAxis dataKey="y" type="number" domain={[-25, 25]} ticks={xTicks} interval={0} height={130} tickSize={0} tickMargin={0} tickLine={false} tick={<XTick />} axisLine={{ stroke: "#000", strokeWidth: 4.5 }} />
          <YAxis type="number" domain={[0, 30]} ticks={zTicks} interval={0} width={120} tickSize={0} tickMargin={0} tickLine={false} tick={<ZTick />} axisLine={{ stroke: "#000", strokeWidth: 4.5 }} />
          <ReferenceLine y={30} stroke="#000" strokeWidth={4.5} />
          <ReferenceLine x={25} stroke="#000" strokeWidth={4.5} />
          <Line data={[{ y: -25, z: draft }, { y: 25, z: draft }]} dataKey="z" stroke="#000" strokeWidth={4.5} strokeDasharray="15 15" dot={false} activeDot={false} isAnimationActive={false} />
          <Line data={[{ y: 0, z: 26 }, { y: 0, z: 0 }]} dataKey="z" stroke="#000" strokeWidth={lineW} strokeDasharray="8 20 37 20" dot={false} activeDot={false} isAnimationActive={false} />
          {ys.map((row: number[], i: number) => (
            <Line
              key={i}
              data={row.map((y, j) => ({ y, z: zs[i][j] }))}
              dataKey="z"
              type={rowType(i) as any}
              stroke="#000"
              strokeWidth={lineW}
              dot={false}
              activeDot={false}
              isAnimationActive={false}
            />
          ))}
        </LineChart>
      </div>
    </>
  )
}

export default function App() {
  return (
    <div style={{ position: "absolute", left: 0, top: 0, width: 3773, height: 3095, background: "#fff", overflow: "hidden" }}>
      {panels.map((p) => <Panel key={p.title} {...p} />)}
      <div style={{ position: "absolute", left: 1306 - 100, width: 200, top: 1542 - 40, height: 80, lineHeight: "80px", textAlign: "center", transform: "rotate(-90deg)", fontFamily: serif, fontSize: 66, color: "#000", whiteSpace: "nowrap" }}><i>Z</i> (m)</div>
      <div style={{ position: "absolute", left: 1934 - 100, width: 200, top: 1980 - 40, height: 80, lineHeight: "80px", textAlign: "center", fontFamily: serif, fontSize: 66, color: "#000", whiteSpace: "nowrap" }}><i>Y</i> (m)</div>
    </div>
  )
}
